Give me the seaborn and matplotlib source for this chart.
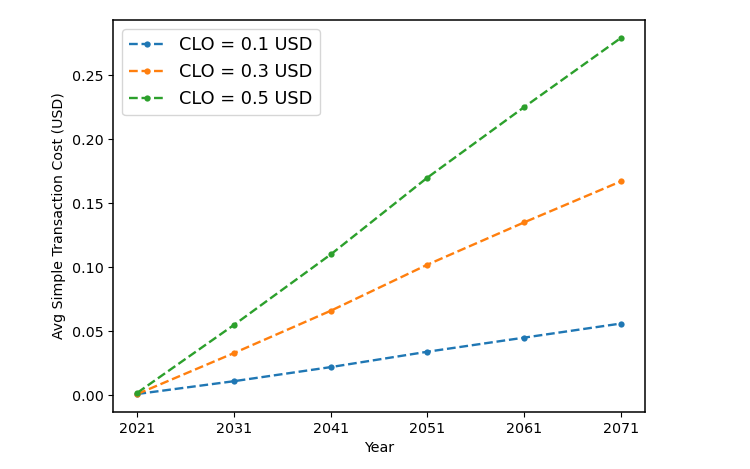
import pandas as pd
import matplotlib
matplotlib.use('Agg')
import matplotlib.pyplot as plt
import seaborn as sns

years = [2021, 2031, 2041, 2051, 2061, 2071]
clo_labels = ['CLO = 0.1 USD', 'CLO = 0.3 USD', 'CLO = 0.5 USD']
cost_01 = [0.001, 0.011, 0.022, 0.034, 0.045, 0.056]
cost_03 = [0.001, 0.033, 0.066, 0.102, 0.135, 0.167]
cost_05 = [0.002, 0.055, 0.110, 0.170, 0.225, 0.279]

colors = sns.color_palette('tab10', 3)

fig = plt.figure(figsize=(7.5, 4.69), dpi=100)
ax = fig.add_subplot(111)
fig.subplots_adjust(left=0.151, right=0.86, top=0.957, bottom=0.122)

for label, vals, c in zip(clo_labels, [cost_01, cost_03, cost_05], colors):
    df = pd.DataFrame({'Year': years, 'Cost': vals})
    sns.lineplot(data=df, x='Year', y='Cost', ax=ax, color=c, linestyle='--',
                 linewidth=1.7, marker='o', markersize=4.5, markeredgewidth=0,
                 label=label)

ax.set_xticks(years)
ax.set_yticks([0.0, 0.05, 0.10, 0.15, 0.20, 0.25])
ax.set_yticklabels(['0.00', '0.05', '0.10', '0.15', '0.20', '0.25'])
ax.tick_params(labelsize=10.3)
for s in ax.spines.values():
    s.set_linewidth(1.1)
ax.set_xlabel('Year', fontsize=10.3)
ax.set_ylabel('Avg Simple Transaction Cost (USD)', fontsize=10.2)
ax.legend(loc='upper left', fontsize=12.8)

plt.savefig('out.png', dpi=100)
